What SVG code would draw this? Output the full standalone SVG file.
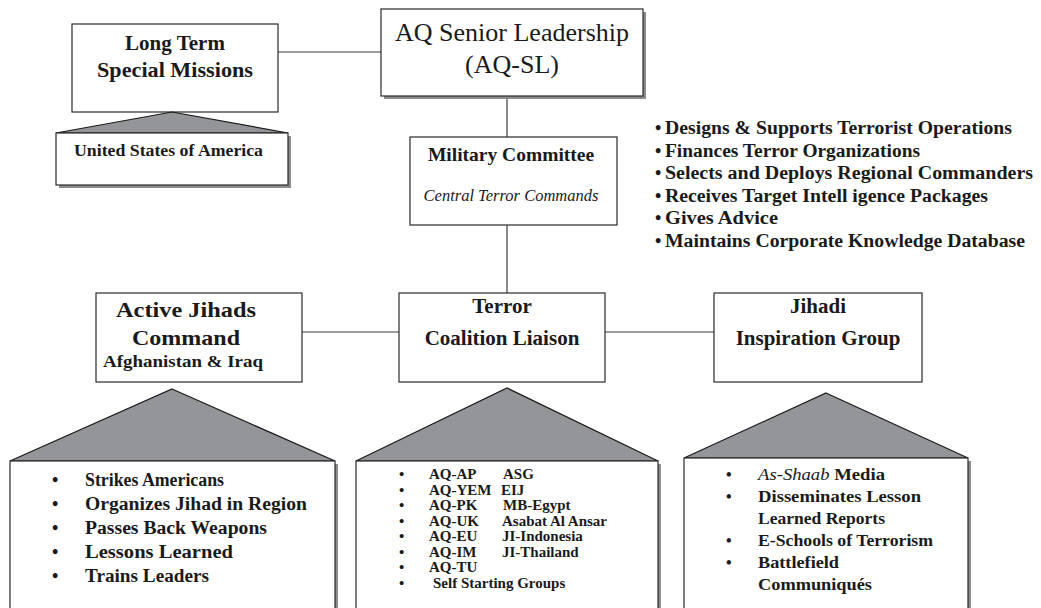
<svg xmlns="http://www.w3.org/2000/svg" width="1041" height="608" viewBox="0 0 1041 608">
  <style>
    text { font-family: "Liberation Serif", "Times New Roman", serif; fill: #1a1a1a; }
    .b { font-weight: bold; }
    .c { text-anchor: middle; }
    .it { font-style: italic; }
    .box { fill: #ffffff; stroke: #2a2a2a; stroke-width: 1.2; }
    .shadow { fill: #8c8c8e; }
    .roof { fill: #939598; stroke: #1a1a1a; stroke-width: 1.2; stroke-linejoin: miter; }
    .link { stroke: #3a3a3a; stroke-width: 1.2; fill: none; }
  </style>

  <rect x="0" y="0" width="1041" height="608" fill="#ffffff"/>

  <!-- connectors -->
  <g id="connectors">
    <line class="link" x1="278" y1="52" x2="381" y2="52"/>
    <line class="link" x1="507" y1="96" x2="507" y2="137"/>
    <line class="link" x1="507" y1="225" x2="507" y2="293"/>
    <line class="link" x1="302" y1="332" x2="399" y2="332"/>
    <line class="link" x1="605" y1="332" x2="714" y2="332"/>
  </g>

  <!-- top row -->
  <g id="long-term-special-missions">
    <rect class="box" x="72" y="24" width="206" height="88"/>
    <text class="b c" x="175" y="50" font-size="21">Long Term</text>
    <text class="b c" x="175" y="77" font-size="21" textLength="156" lengthAdjust="spacingAndGlyphs">Special Missions</text>
  </g>

  <g id="united-states">
    <polygon class="roof" points="172,112 288,133 56,133"/>
    <rect class="shadow" x="59" y="136" width="232" height="52"/>
    <rect class="box" x="56" y="133" width="232" height="52"/>
    <text class="b" x="74" y="156" font-size="16.5" textLength="189" lengthAdjust="spacingAndGlyphs">United States of America</text>
  </g>

  <g id="aq-senior-leadership">
    <rect class="shadow" x="384" y="12" width="262" height="87"/>
    <rect class="box" x="381" y="9" width="262" height="87"/>
    <text class="c" x="512" y="41" font-size="26">AQ Senior Leadership</text>
    <text class="c" x="512" y="73" font-size="26">(AQ-SL)</text>
  </g>

  <g id="military-committee">
    <rect class="box" x="410" y="137" width="207" height="88"/>
    <text class="b c" x="511" y="161" font-size="19.5">Military Committee</text>
    <text class="it c" x="511" y="201" font-size="16.5">Central Terror Commands</text>
  </g>

  <g id="committee-roles" font-size="18" class="b">
    <text x="655" y="134">•</text>
    <text x="665" y="134" textLength="347" lengthAdjust="spacingAndGlyphs">Designs &amp; Supports Terrorist Operations</text>
    <text x="655" y="156.5">•</text>
    <text x="665" y="156.5" textLength="255" lengthAdjust="spacingAndGlyphs">Finances Terror Organizations</text>
    <text x="655" y="179">•</text>
    <text x="665" y="179" textLength="368" lengthAdjust="spacingAndGlyphs">Selects and Deploys Regional Commanders</text>
    <text x="655" y="201.5">•</text>
    <text x="665" y="201.5" textLength="323" lengthAdjust="spacingAndGlyphs">Receives Target Intell igence Packages</text>
    <text x="655" y="224">•</text>
    <text x="665" y="224" textLength="113" lengthAdjust="spacingAndGlyphs">Gives Advice</text>
    <text x="655" y="246.5">•</text>
    <text x="665" y="246.5" textLength="360" lengthAdjust="spacingAndGlyphs">Maintains Corporate Knowledge Database</text>
  </g>

  <!-- bottom row -->
  <g id="active-jihads-command">
    <rect class="box" x="96" y="293" width="206" height="89"/>
    <text class="b c" x="186" y="317" font-size="21" textLength="140" lengthAdjust="spacingAndGlyphs">Active Jihads</text>
    <text class="b c" x="186" y="345" font-size="21" textLength="108" lengthAdjust="spacingAndGlyphs">Command</text>
    <text class="b c" x="183" y="367" font-size="16" textLength="160" lengthAdjust="spacingAndGlyphs">Afghanistan &amp; Iraq</text>
  </g>

  <g id="active-jihads-tasks">
    <polygon class="roof" points="172,389 335,461 10,461"/>
    <rect class="shadow" x="13" y="464" width="325" height="160"/>
    <rect class="box" x="10" y="461" width="325" height="160"/>
    <g class="b" font-size="18">
      <text x="52" y="486">•</text>
      <text x="85" y="486" textLength="139" lengthAdjust="spacingAndGlyphs">Strikes Americans</text>
      <text x="52" y="510">•</text>
      <text x="85" y="510" textLength="222" lengthAdjust="spacingAndGlyphs">Organizes Jihad in Region</text>
      <text x="52" y="534">•</text>
      <text x="85" y="534" textLength="182" lengthAdjust="spacingAndGlyphs">Passes Back Weapons</text>
      <text x="52" y="558">•</text>
      <text x="85" y="558" textLength="148" lengthAdjust="spacingAndGlyphs">Lessons Learned</text>
      <text x="52" y="582">•</text>
      <text x="85" y="582" textLength="124" lengthAdjust="spacingAndGlyphs">Trains Leaders</text>
    </g>
  </g>

  <g id="terror-coalition-liaison">
    <rect class="box" x="399" y="293" width="206" height="89"/>
    <text class="b c" x="502" y="313" font-size="21">Terror</text>
    <text class="b c" x="502" y="345" font-size="21">Coalition Liaison</text>
  </g>

  <g id="coalition-members">
    <polygon class="roof" points="507,388 658,461 356,461"/>
    <rect class="shadow" x="359" y="464" width="302" height="160"/>
    <rect class="box" x="356" y="461" width="302" height="160"/>
    <g class="b" font-size="15">
      <text x="399" y="479">•</text><text x="429" y="479">AQ-AP</text><text x="503" y="479">ASG</text>
      <text x="399" y="494.5">•</text><text x="429" y="494.5">AQ-YEM</text><text x="501" y="494.5">EIJ</text>
      <text x="399" y="510">•</text><text x="429" y="510">AQ-PK</text><text x="503" y="510">MB-Egypt</text>
      <text x="399" y="525.5">•</text><text x="429" y="525.5">AQ-UK</text><text x="502" y="525.5">Asabat Al Ansar</text>
      <text x="399" y="541">•</text><text x="429" y="541">AQ-EU</text><text x="502" y="541">JI-Indonesia</text>
      <text x="399" y="556.5">•</text><text x="429" y="556.5">AQ-IM</text><text x="502" y="556.5">JI-Thailand</text>
      <text x="399" y="572">•</text><text x="429" y="572">AQ-TU</text>
      <text x="399" y="587.5">•</text><text x="433" y="587.5">Self Starting Groups</text>
    </g>
  </g>

  <g id="jihadi-inspiration-group">
    <rect class="box" x="714" y="293" width="208" height="89"/>
    <text class="b c" x="818" y="313" font-size="21">Jihadi</text>
    <text class="b c" x="818" y="345" font-size="21">Inspiration Group</text>
  </g>

  <g id="inspiration-outputs">
    <polygon class="roof" points="826,393 968,458 684,458"/>
    <rect class="shadow" x="687" y="461" width="284" height="160"/>
    <rect class="box" x="684" y="458" width="284" height="160"/>
    <g class="b" font-size="16">
      <text x="726" y="480">•</text>
      <text x="758" y="480" textLength="127" lengthAdjust="spacingAndGlyphs"><tspan font-style="italic" font-weight="normal">As-Shaab</tspan> Media</text>
      <text x="726" y="502">•</text>
      <text x="758" y="502" textLength="163" lengthAdjust="spacingAndGlyphs">Disseminates Lesson</text>
      <text x="758" y="524" textLength="127" lengthAdjust="spacingAndGlyphs">Learned Reports</text>
      <text x="726" y="546">•</text>
      <text x="758" y="546" textLength="175" lengthAdjust="spacingAndGlyphs">E-Schools of Terrorism</text>
      <text x="726" y="568">•</text>
      <text x="758" y="568" textLength="81" lengthAdjust="spacingAndGlyphs">Battlefield</text>
      <text x="758" y="590" textLength="114" lengthAdjust="spacingAndGlyphs">Communiqués</text>
    </g>
  </g>
</svg>
